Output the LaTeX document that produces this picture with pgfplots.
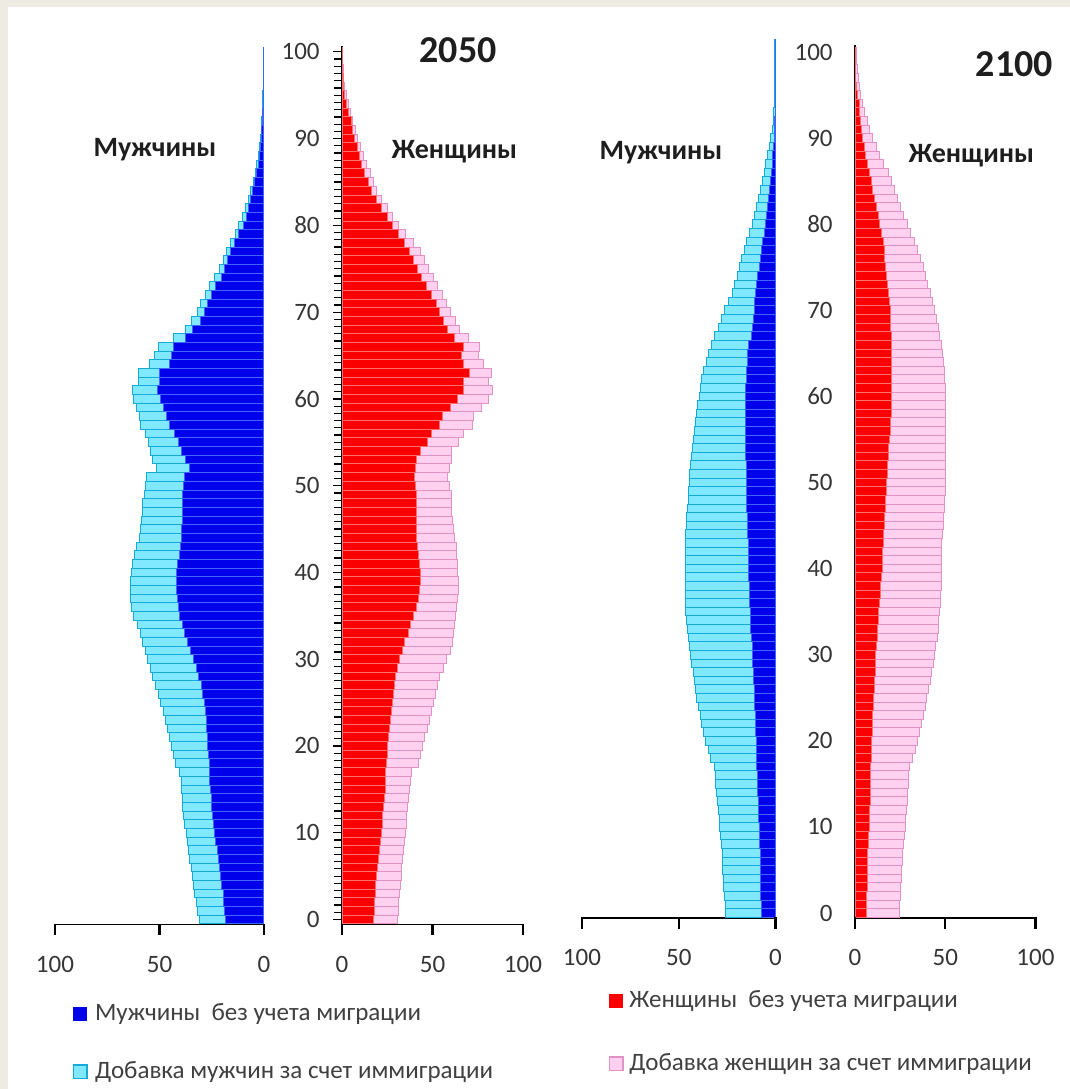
\documentclass[border=0pt]{standalone}
\usepackage{fontspec}
\setmainfont{Carlito}
\usepackage{pgfplots}
\usepackage{pgfplotstable}
\pgfplotsset{compat=1.18}

\definecolor{bgbeige}{RGB}{238,236,226}
\definecolor{mblue}{RGB}{0,0,235}
\definecolor{mblueedge}{RGB}{60,100,255}
\definecolor{mcyan}{RGB}{128,232,255}
\definecolor{mcyanedge}{RGB}{20,170,220}
\definecolor{fred}{RGB}{250,0,0}
\definecolor{frededge}{RGB}{255,110,110}
\definecolor{fpink}{RGB}{255,208,240}
\definecolor{fpinkedge}{RGB}{228,145,195}
\definecolor{txt}{RGB}{30,30,30}

% men 2050: age, without migration, total with immigration
\pgfplotstableread{
age base total
0 18.4 31.0
1 18.8 31.8
2 19.2 32.5
3 19.6 33.1
4 20.1 33.7
5 20.6 34.3
6 21.1 34.9
7 21.6 35.5
8 22.3 36.1
9 23.0 36.7
10 23.6 37.3
11 24.1 37.9
12 24.5 38.4
13 24.9 38.8
14 25.3 39.1
15 25.7 39.3
16 25.9 39.7
17 26.1 40.3
18 26.3 42.5
19 26.6 43.3
20 26.9 44.3
21 27.1 45.2
22 27.3 46.1
23 27.5 47.0
24 28.0 48.2
25 28.7 49.4
26 29.4 50.7
27 30.0 52.0
28 31.3 53.3
29 32.5 54.5
30 33.7 55.6
31 35.3 56.8
32 36.6 58.0
33 37.8 59.3
34 38.9 60.6
35 40.3 62.4
36 41.0 63.2
37 41.4 63.7
38 41.8 63.8
39 42.0 63.8
40 42.0 63.6
41 41.3 62.8
42 40.6 61.8
43 40.0 60.8
44 39.6 59.8
45 39.3 59.0
46 39.1 58.5
47 39.0 58.0
48 39.0 57.9
49 38.9 57.3
50 38.4 56.5
51 38.2 56.2
52 35.7 51.6
53 37.5 53.3
54 39.5 54.5
55 41.0 55.5
56 42.6 56.9
57 45.0 59.0
58 46.6 59.6
59 48.2 61.2
60 49.4 62.2
61 51.0 62.8
62 49.8 60.1
63 50.1 60.1
64 45.3 54.9
65 44.2 52.2
66 43.4 50.5
67 37.5 43.5
68 34.0 37.5
69 30.5 34.5
70 28.5 32.0
71 27.0 30.3
72 25.0 28.0
73 23.0 26.0
74 20.5 23.5
75 19.0 21.5
76 17.5 19.5
77 16.0 18.0
78 14.0 15.8
79 12.0 13.8
80 10.0 12.0
81 8.6 10.2
82 7.4 8.8
83 6.3 7.5
84 5.3 6.3
85 4.4 5.2
86 3.5 4.3
87 2.8 3.4
88 2.2 2.7
89 1.7 2.2
90 1.3 1.7
91 1.0 1.3
92 0.7 1.0
93 0.5 0.8
94 0.3 0.6
95 0.2 0.5
96 0.1 0.4
97 0.05 0.3
98 0.05 0.3
99 0.05 0.3
100 0.05 0.3
}\menA

% women 2050
\pgfplotstableread{
age base total
0 17.5 30.8
1 17.8 31.1
2 18.0 31.4
3 18.3 31.7
4 18.7 32.1
5 19.2 32.6
6 19.7 33.1
7 20.2 33.5
8 20.7 34.0
9 21.2 34.5
10 21.7 35.0
11 22.1 35.4
12 22.6 35.8
13 23.1 36.3
14 23.6 36.8
15 24.0 37.3
16 24.1 37.8
17 24.2 38.4
18 24.5 42.0
19 25.0 43.5
20 25.4 44.6
21 25.9 45.8
22 26.4 47.0
23 26.9 48.5
24 27.3 49.5
25 27.8 50.5
26 28.3 51.6
27 28.8 52.5
28 29.5 54.0
29 30.5 56.0
30 31.8 57.8
31 33.2 59.8
32 34.8 60.8
33 36.5 61.5
34 38.0 62.2
35 39.6 62.8
36 41.0 63.3
37 42.0 63.8
38 42.8 64.2
39 43.1 64.2
40 43.1 64.0
41 42.8 63.8
42 42.2 63.5
43 41.5 63.0
44 41.3 62.3
45 41.3 61.5
46 41.3 61.0
47 41.3 60.6
48 41.3 60.4
49 41.3 60.3
50 40.8 59.5
51 40.3 58.4
52 40.6 59.3
53 41.3 60.3
54 43.1 60.3
55 47.0 64.1
56 49.5 67.4
57 54.1 72.3
58 55.6 72.6
59 59.7 77.2
60 63.7 80.9
61 67.0 83.2
62 67.4 80.9
63 70.3 82.7
64 67.0 78.0
65 66.1 75.3
66 67.0 75.9
67 62.0 70.0
68 58.4 65.0
69 56.0 62.5
70 53.8 59.8
71 52.0 57.8
72 49.5 55.5
73 46.8 53.0
74 44.0 50.8
75 41.5 48.0
76 39.5 45.5
77 37.5 43.2
78 34.5 39.5
79 31.0 35.0
80 28.0 31.0
81 25.0 28.0
82 22.0 25.0
83 19.0 22.0
84 16.5 19.3
85 14.5 17.3
86 12.7 15.6
87 11.0 13.5
88 9.6 11.7
89 8.3 10.1
90 7.0 8.6
91 6.0 7.3
92 5.0 6.0
93 3.8 4.7
94 2.6 3.4
95 1.6 2.3
96 1.0 1.5
97 0.6 1.0
98 0.3 0.6
99 0.2 0.4
100 0.1 0.3
}\womA

% men 2100
\pgfplotstableread{
age base total
0 7.3 25.7
1 7.4 26.0
2 7.5 26.5
3 7.6 26.8
4 7.7 27.0
5 7.8 27.2
6 7.9 27.4
7 8.0 27.6
8 8.2 28.0
9 8.3 28.4
10 8.5 28.8
11 8.6 29.1
12 8.8 29.6
13 9.0 30.0
14 9.2 30.4
15 9.4 30.8
16 9.5 31.2
17 9.6 31.6
18 9.7 33.5
19 9.8 34.8
20 9.9 36.0
21 10.1 37.2
22 10.2 38.2
23 10.4 38.9
24 10.6 39.8
25 10.8 40.6
26 11.0 41.3
27 11.2 41.9
28 11.4 42.6
29 11.7 43.2
30 11.9 43.8
31 12.1 44.2
32 12.4 45.0
33 12.7 45.6
34 12.9 46.1
35 13.0 46.4
36 13.2 46.5
37 13.4 46.5
38 13.6 46.5
39 13.7 46.5
40 13.8 46.6
41 14.0 46.6
42 14.1 46.7
43 14.2 46.7
44 14.4 46.5
45 14.5 46.2
46 14.6 45.9
47 14.8 45.6
48 14.9 45.2
49 15.0 44.9
50 15.0 44.6
51 15.1 44.3
52 15.2 43.9
53 15.4 43.4
54 15.5 42.9
55 15.6 42.5
56 15.6 42.1
57 15.6 41.5
58 15.6 40.8
59 15.6 40.2
60 15.5 39.5
61 15.3 38.9
62 15.1 38.0
63 14.9 37.0
64 14.7 35.9
65 14.3 34.7
66 13.8 33.2
67 12.4 31.3
68 12.0 29.5
69 11.6 27.9
70 11.0 26.2
71 10.6 24.4
72 10.2 22.4
73 9.7 21.0
74 9.1 19.6
75 8.3 18.4
76 7.6 17.4
77 7.2 16.1
78 6.5 14.8
79 5.9 13.5
80 5.3 12.1
81 4.9 11.1
82 4.3 10.0
83 3.8 8.8
84 3.2 7.6
85 2.8 6.8
86 2.3 5.9
87 1.8 5.0
88 1.4 4.1
89 1.0 3.3
90 0.7 2.5
91 0.5 1.8
92 0.3 1.2
93 0.2 0.8
94 0.1 0.6
95 0.05 0.5
96 0.05 0.5
97 0.05 0.5
98 0.05 0.5
99 0.05 0.5
100 0.05 0.5
101 0.05 0.5
}\menB

% women 2100
\pgfplotstableread{
age base total
0 6.1 24.6
1 6.3 24.9
2 6.5 25.1
3 6.7 25.3
4 6.8 25.6
5 6.9 25.9
6 7.0 26.1
7 7.2 26.5
8 7.5 27.0
9 7.7 27.5
10 7.9 27.8
11 8.1 28.1
12 8.2 28.5
13 8.4 28.9
14 8.5 29.2
15 8.6 29.5
16 8.7 29.8
17 8.8 30.2
18 8.9 31.8
19 9.1 33.4
20 9.3 34.5
21 9.5 35.6
22 9.7 36.6
23 9.9 37.8
24 10.2 38.8
25 10.4 39.8
26 10.7 40.9
27 10.9 41.8
28 11.2 42.6
29 11.4 43.4
30 11.6 44.1
31 11.8 44.8
32 12.2 45.5
33 12.6 46.0
34 12.9 46.4
35 13.2 46.7
36 13.6 47.1
37 14.0 47.4
38 14.4 47.7
39 14.7 47.9
40 15.0 48.0
41 15.2 48.0
42 15.5 48.0
43 15.7 48.1
44 16.0 48.6
45 16.3 49.0
46 16.6 49.3
47 16.9 49.6
48 17.1 49.8
49 17.4 49.9
50 17.6 49.9
51 17.8 49.9
52 18.1 49.9
53 18.4 49.9
54 18.6 49.9
55 19.0 49.9
56 19.4 49.9
57 19.8 49.9
58 20.1 49.9
59 20.3 49.9
60 20.4 49.9
61 20.4 49.9
62 20.4 49.8
63 20.4 49.5
64 20.4 49.0
65 20.4 48.4
66 20.3 47.8
67 20.1 47.0
68 19.9 46.2
69 19.7 45.2
70 19.5 44.1
71 19.2 42.9
72 18.8 41.6
73 18.2 40.2
74 17.5 39.2
75 17.0 37.7
76 16.5 36.1
77 16.1 34.5
78 15.7 32.8
79 14.8 31.0
80 13.8 29.0
81 12.8 27.1
82 11.8 25.2
83 10.9 23.5
84 9.9 21.7
85 8.9 20.0
86 8.0 18.5
87 7.0 16.0
88 6.0 13.8
89 5.0 11.8
90 4.2 9.9
91 3.6 8.2
92 3.0 6.8
93 2.6 5.4
94 2.3 4.2
95 1.6 3.2
96 1.0 2.4
97 0.5 1.8
98 0.3 1.4
99 0.2 1.1
100 0.1 0.9
}\womB

\pgfplotsset{
  pyr/.style={
    scale only axis, anchor=center, clip=false,
    xbar, bar width=1, bar shift=0pt,
    xmin=0, xmax=100, xtick={0,50,100},
    tick align=outside,
    axis x line*=bottom,
    axis line style={line width=0.8pt, black},
    major tick length=4.5pt, minor tick length=4pt,
    every tick/.style={line width=0.6pt, black},
    every tick label/.append style={font=\fontsize{12.5}{14}\selectfont, text=txt!90},
    /pgf/number format/assume math mode=true,
    xticklabel style={anchor=north, inner sep=0pt, yshift=-11pt},
    yticklabel style={anchor=east, inner sep=0pt, xshift=-6.5pt},
  },
  men/.style={pyr, x dir=reverse, axis y line=none},
  wom/.style={pyr, axis y line*=left, ytick={0,10,...,100}},
}

\begin{document}
\begin{tikzpicture}
\fill[bgbeige] (0,0) rectangle (535pt,544.5pt);
\fill[white] (4pt,0) rectangle (535pt,541pt);

% 2050 men
\begin{axis}[men, at={(79.75pt,301.875pt)}, width=104.5pt, height=439.45pt, ymin=-0.6, ymax=100.7]
\addplot[fill=mcyan, draw=mcyanedge, line width=0.5pt] table[x=total, y=age] {\menA};
\addplot[fill=mblue, draw=mblueedge, line width=0.5pt] table[x=base, y=age] {\menA};
\end{axis}
% 2050 women
\begin{axis}[wom, at={(216.25pt,301.875pt)}, width=90.5pt, height=439.45pt, ymin=-0.6, ymax=100.7, minor y tick num=11]
\addplot[fill=fpink, draw=fpinkedge, line width=0.5pt] table[x=total, y=age] {\womA};
\addplot[fill=fred, draw=frededge, line width=0.5pt] table[x=base, y=age] {\womA};
\end{axis}
% 2100 men
\begin{axis}[men, at={(339.375pt,305.4pt)}, width=96.75pt, height=440pt, ymin=-0.6, ymax=101.6]
\addplot[fill=mcyan, draw=mcyanedge, line width=0.5pt] table[x=total, y=age] {\menB};
\addplot[fill=mblue, draw=mblueedge, line width=0.5pt] table[x=base, y=age] {\menB};
\end{axis}
% 2100 women
\begin{axis}[wom, at={(472.625pt,303.675pt)}, width=90.25pt, height=436.55pt, ymin=-0.6, ymax=100.8, y tick style={draw=none}]
\addplot[fill=fpink, draw=fpinkedge, line width=0.5pt] table[x=total, y=age] {\womB};
\addplot[fill=fred, draw=frededge, line width=0.5pt] table[x=base, y=age] {\womB};
\end{axis}

% x-axis tick marks (0, 50, 100) below each horizontal axis line
\begin{scope}[line width=1.2pt, black]
\foreach \x in {27.5,79.75,132,171,216.25,261.5} \draw (\x pt,82.6pt) -- (\x pt,76.8pt);
\foreach \x in {291,339.375,387.75,427.5,472.625,517.75} \draw (\x pt,85.8pt) -- (\x pt,80pt);
\end{scope}

% titles
\node[font=\fontsize{19}{22}\selectfont\bfseries, text=txt] at (229pt,519.5pt) {2050};
\node[font=\fontsize{19}{22}\selectfont\bfseries, text=txt] at (507.25pt,512.5pt) {2100};
\node[font=\fontsize{14}{16}\selectfont\bfseries, text=txt] at (77.5pt,469.5pt) {Мужчины};
\node[font=\fontsize{14}{16}\selectfont\bfseries, text=txt] at (227.25pt,468.75pt) {Женщины};
\node[font=\fontsize{14}{16}\selectfont\bfseries, text=txt] at (330.5pt,468pt) {Мужчины};
\node[font=\fontsize{14}{16}\selectfont\bfseries, text=txt] at (485.75pt,466.5pt) {Женщины};

% legends
\begin{scope}[every node/.style={font=\fontsize{12.5}{14}\selectfont, text=txt!85, inner sep=0pt, anchor=west}]
\fill[mblue] (36.5pt,34pt) rectangle (43.5pt,41pt);
\node at (47.35pt,37.5pt) {Мужчины\ \ без учета миграции};
\filldraw[fill=mcyan, draw=mcyanedge, line width=0.6pt] (36.8pt,5.3pt) rectangle (43.5pt,12pt);
\node at (47.35pt,8.5pt) {Добавка мужчин за счет иммиграции};
\fill[fred] (304.5pt,40.5pt) rectangle (311.5pt,47.5pt);
\node at (314.5pt,44pt) {Женщины\ \ без учета миграции};
\filldraw[fill=fpink, draw=fpinkedge, line width=0.6pt] (304.8pt,9.3pt) rectangle (311.5pt,16pt);
\node at (314.5pt,12.5pt) {Добавка женщин за счет иммиграции};
\end{scope}
\end{tikzpicture}
\end{document}
